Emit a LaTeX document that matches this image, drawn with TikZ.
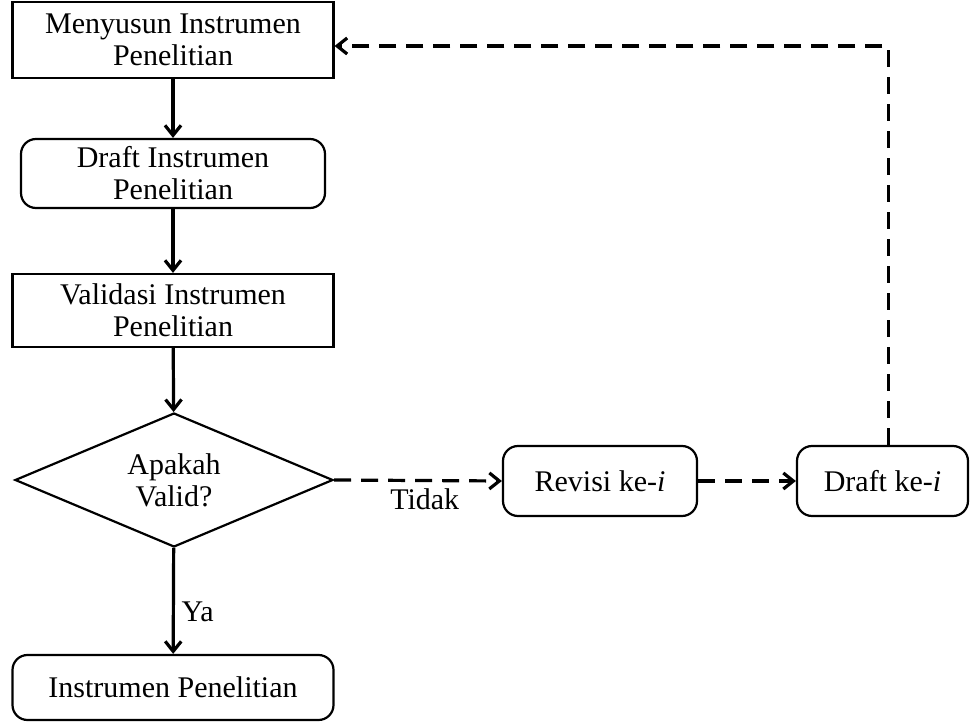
\documentclass[tikz,border=0pt]{standalone}
\usepackage{fontspec}
\setmainfont{Liberation Serif}
\usetikzlibrary{arrows.meta,shapes.geometric}

\begin{document}
\begin{tikzpicture}[x=0.5pt,y=-0.5pt,font=\fontsize{15}{16}\selectfont,
  kotak/.style={draw,line width=1.1pt,align=center,inner sep=2pt},
  bulat/.style={kotak,rounded corners=7.5pt},
  belah/.style={draw,line width=1.1pt,diamond,aspect=2.4,align=center,inner sep=0pt,minimum width=159pt,minimum height=67pt},
  panah/.style={line width=1.6pt,-{Straight Barb[length=5pt,width=8pt]}},
  putus/.style={panah,dash pattern=on 8.5pt off 5pt}]
\useasboundingbox (0,0) rectangle (971,722);
\node[kotak,minimum width=160.5pt,minimum height=38pt] (susun) at (173,40) {Menyusun Instrumen\\Penelitian};
\node[bulat,minimum width=152pt,minimum height=34.5pt] (draft) at (173,173.5) {Draft Instrumen\\Penelitian};
\node[kotak,minimum width=160.5pt,minimum height=36.5pt] (validasi) at (173,310.5) {Validasi Instrumen\\Penelitian};
\node[belah] (valid) at (174,480) {Apakah\\Valid?};
\node[bulat,minimum width=160.5pt,minimum height=32.5pt] (hasil) at (173,687.5) {Instrumen Penelitian};
\node[bulat,minimum width=97pt,minimum height=35pt] (revisi) at (600,481) {Revisi ke-\textit{i}};
\node[bulat,minimum width=85.5pt,minimum height=35pt] (draftke) at (882.5,481) {Draft ke-\textit{i}};
% alur utama
\draw[panah] (susun) -- (draft);
\draw[panah] (draft) -- (validasi);
\draw[panah] (validasi) -- (valid);
\draw[panah] (valid) -- node[right,pos=0.6] {Ya} (hasil);
% alur revisi
\draw[putus] (valid.east) -- node[below,pos=0.54] {Tidak} (revisi.west);
\draw[putus] (revisi) -- (draftke);
\draw[putus] ([xshift=3pt]draftke.north) |- ([yshift=-3pt]susun.east);
\end{tikzpicture}
\end{document}
